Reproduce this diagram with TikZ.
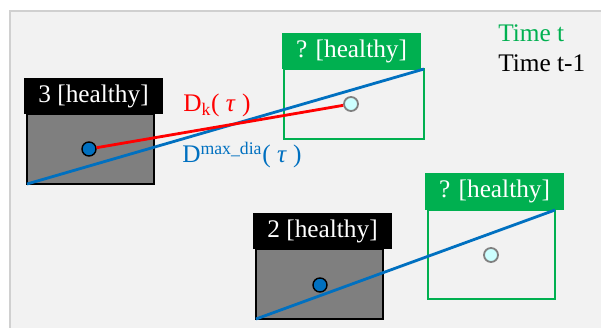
\documentclass[tikz,border=0pt]{standalone}
\usepackage{fontspec}
\setmainfont{Liberation Serif}
\newfontfamily\labelfont{Liberation Serif}
\usetikzlibrary{
    positioning,
    backgrounds
    }

\definecolor{panelfill}{HTML}{F2F2F2}
\definecolor{panelline}{HTML}{D0D0D0}
\definecolor{boxgray}{HTML}{7F7F7F}
\definecolor{tgreen}{HTML}{00B050}
\definecolor{dblue}{HTML}{0070C0}
\definecolor{dotcyan}{HTML}{CCFFFF}

\begin{document}
\begin{tikzpicture}[x=0.025cm, y=-0.025cm]
\tikzset{tag/.style =
        {
            rectangle,
            anchor=north west,
            inner sep=0pt,
            outer sep=0pt,
            minimum width=3.475cm,
            minimum height=0.9cm,
            text=white,
            font=\labelfont\fontsize{18}{20}\selectfont
        }
}

\tikzset{prevtag/.style =
        {
            tag,
            fill=black
        }
}

\tikzset{currtag/.style =
        {
            tag,
            fill=tgreen
        }
}

\tikzset{prevbox/.style =
        {
            rectangle,
            anchor=north west,
            draw=black,
            line width=1pt,
            fill=boxgray,
            inner sep=0pt,
            outer sep=0pt,
            minimum width=3.175cm,
            minimum height=1.75cm
        }
}

\tikzset{currbox/.style =
        {
            prevbox,
            draw=tgreen,
            line width=1.5pt,
            fill=none
        }
}

\tikzset{prevdot/.style =
        {
            shape=circle,
            draw=black,
            line width=1pt,
            fill=dblue,
            inner sep=0pt,
            minimum size=0.35cm
        }
}

\tikzset{currdot/.style =
        {
            prevdot,
            draw=gray,
            line width=1.3pt,
            fill=dotcyan
        }
}

\tikzset{dist/.style = {
            line width=2pt,
            red
        }
}

\tikzset{maxdist/.style = {
            line width=2pt,
            dblue
        }
}

\tikzset{legend/.style = {
            anchor=base west,
            inner sep=0pt,
            font=\labelfont\fontsize{18}{20}\selectfont
        }
}
		\useasboundingbox (0,0) rectangle (601,328);
		\draw[panelline, line width=1.2pt, fill=panelfill] (10,11) rectangle (650,370);

		% time t-1 / time t, track 3
		\node[prevtag] (tag3) at (24,78) {3 [healthy]};
		\node[prevbox] (box3) at (27,114) {};
		\node[currtag] (tagq3) at (282,33) {? [healthy]};
		\node[currbox, minimum width=3.5cm] (boxq3) at (284,69) {};
		\node[prevdot] (dot3) at (89,149) {};
		\node[currdot] (dotq3) at (351,104) {};

		% time t-1 / time t, track 2
		\node[prevtag] (tag2) at (253,213) {2 [healthy]};
		\node[prevbox] (box2) at (256,249) {};
		\node[currtag, minimum height=0.925cm] (tagq2) at (425,173) {? [healthy]};
		\node[currbox, minimum height=2.225cm] (boxq2) at (428,210) {};
		\node[prevdot] (dot2) at (320,285) {};
		\node[currdot] (dotq2) at (491,255) {};

		\draw[maxdist] (box3.south west) -- (boxq3.north east);
		\draw[maxdist] (box2.south west) -- (boxq2.north east);
		\draw[dist] (dot3) -- (dotq3);

		\node[legend, red] (dk) at (183,112) {D\textsubscript{k}( \textit{τ} )};
		\node[legend, dblue] (dmax) at (182,163) {D\textsuperscript{max\_dia}( \textit{τ} )};
		\node[legend, tgreen] (tnow) at (498,42) {Time t};
		\node[legend] (tprev) at (498,72) {Time t-1};

	\end{tikzpicture}
\end{document}
